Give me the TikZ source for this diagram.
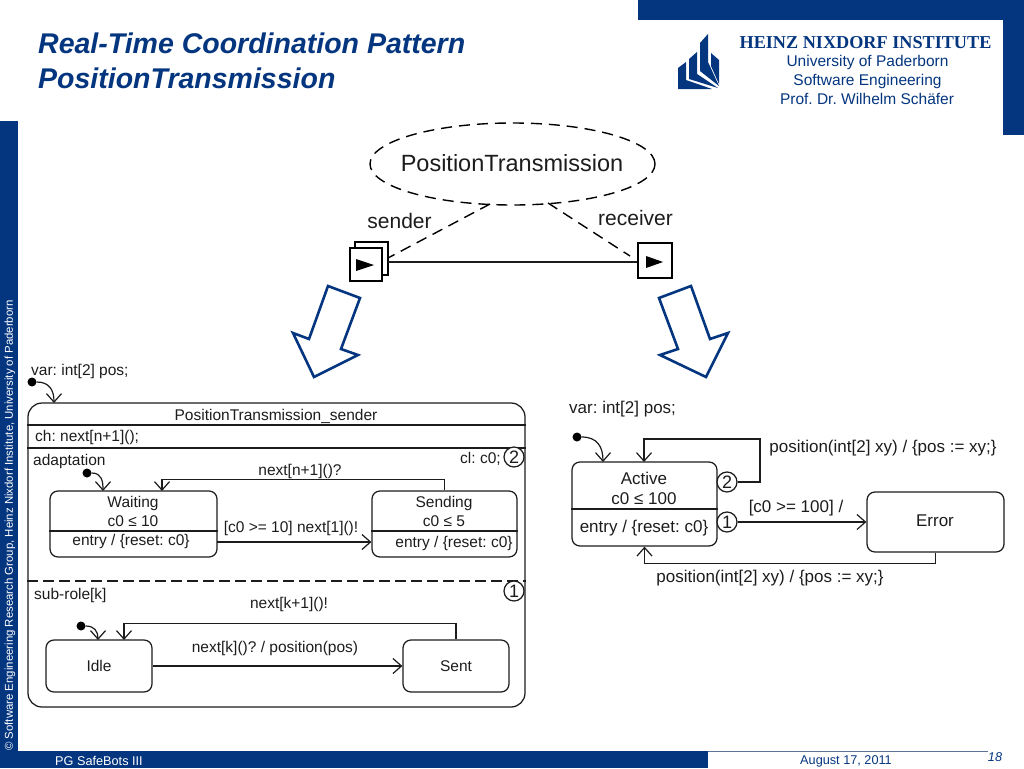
\documentclass[tikz,border=0pt]{standalone}
\usepackage{fontspec}
\setmainfont{Liberation Sans}
\newfontfamily\serifhead{Liberation Serif}
\usetikzlibrary{arrows.meta,shapes.geometric}
\definecolor{upbblue}{HTML}{04357F}
\definecolor{inkgray}{HTML}{1C1C1C}
\definecolor{rulegray}{HTML}{5F7197}
\def\fsz#1{\fontsize{#1}{#1}\selectfont\frenchspacing}
\tikzset{
    statebox/.style={draw=inkgray, line width=1.25pt, rounded corners=8pt, inner sep=0pt},
    lbl/.style={text=inkgray, inner sep=0pt, text height=11pt, text depth=3pt, yshift=-1.5pt, font=\fsz{15.5}},
    lblleft/.style={lbl, anchor=west},
    lblbig/.style={lbl, font=\fsz{17}},
    stline/.style={draw=inkgray, line width=1.2pt},
    trans/.style={stline, -{Straight Barb[length=8.5pt,width=15pt,line width=1.2pt]}},
    initdot/.style={circle, fill=black, inner sep=0pt, minimum size=9pt},
    prionum/.style={circle, draw=inkgray, line width=1.25pt, fill=white, inner sep=0pt, minimum size=20pt, text=inkgray, font=\fsz{18}},
    portbox/.style={draw=black, line width=1.4pt, fill=white, inner sep=0pt},
    downarrow/.style={draw=upbblue, line width=2.6pt, miter limit=10},
    headtxt/.style={text=upbblue, inner sep=0pt, text height=11pt, text depth=3pt, yshift=-1.5pt, font=\fsz{15.5}},
    pagetitle/.style={text=upbblue, inner sep=0pt, anchor=west, font=\fsz{28.5}\bfseries\itshape},
    dashln/.style={draw=black, line width=1.4pt, dash pattern=on 11pt off 7pt}
}
\begin{document}
\begin{tikzpicture}[x=1pt, y=-1pt]
    \useasboundingbox (0,0) rectangle (1024,768);

    % page frame
    \fill[upbblue] (638,0) rectangle (1024,20);
    \fill[upbblue] (1003,0) rectangle (1024,135);
    \fill[upbblue] (0,121) rectangle (18,751);
    \fill[upbblue] (0,751) rectangle (708,768);
    \draw[rulegray, line width=1pt] (708,751) -- (988,751);

    \node[pagetitle] (title1) at (38,43) {Real-Time Coordination Pattern};
    \node[pagetitle] (title2) at (38,78) {PositionTransmission};

    % logo
    \fill[upbblue] (678,68) -- (686,62) -- (686,80) -- (712,89) -- (678,89) -- cycle;
    \fill[upbblue] (689,59) -- (697,52) -- (697,74) -- (718,88) -- (689,79) -- cycle;
    \fill[upbblue] (700,43) -- (708,34) -- (708,62) -- (719,86) -- (700,71) -- cycle;
    \fill[upbblue] (711,53) -- (719,60) -- (719,84) -- (711,66) -- cycle;

    \node[headtxt, font=\serifhead\fsz{18.2}\bfseries] (hni) at (865.5,43) {HEINZ NIXDORF INSTITUTE};
    \node[headtxt] (upb) at (867.5,61) {University of Paderborn};
    \node[headtxt] (swe) at (867.5,80) {Software Engineering};
    \node[headtxt] (prof) at (867,99) {Prof. Dr. Wilhelm Schäfer};

    \node[white, inner sep=0pt, rotate=90, anchor=west, font=\fsz{11.4}] (copyr) at (10,751) {© Software Engineering Research Group, Heinz Nixdorf Institute, University of Paderborn};
    \node[white, inner sep=0pt, anchor=west, font=\fsz{12.7}] (foot) at (55,761) {PG SafeBots III};
    \node[upbblue, inner sep=0pt, font=\fsz{12.7}] (datelbl) at (846,761) {August 17, 2011};
    \node[upbblue, inner sep=0pt, font=\fsz{12.7}\itshape] (pagenum) at (995,757) {18};

    % pattern
    \node[ellipse, dashln, minimum width=285pt, minimum height=82pt, inner sep=0pt] (pattern) at (512.5,164) {};
    \node[lbl, font=\fsz{23.5}] (patternlbl) at (512,166) {PositionTransmission};
    \draw[portbox] (355,242) rectangle (388,275);
    \node[portbox, minimum width=32pt, minimum height=33pt] (senderport) at (366,264.5) {};
    \node[portbox, minimum width=34pt, minimum height=35pt] (receiverport) at (655,260.5) {};
    \fill[black] (356,259) -- (374,265) -- (356,271) -- cycle;
    \fill[black] (646,256) -- (663,262) -- (646,268) -- cycle;
    \coordinate (senderedge) at (388,262);
    \draw[stline] (senderedge) -- (receiverport.west |- senderedge);
    \coordinate (senderdash) at (490,204);
    \coordinate (receiverdash) at (548,203);
    \coordinate (senderdashend) at (388,258);
    \coordinate (receiverdashend) at (630,256);
    \draw[dashln] (senderdash) -- (senderdashend);
    \draw[dashln] (receiverdash) -- (receiverdashend);
    \node[lbl, font=\fsz{21}] (senderlbl) at (399.5,222.5) {sender};
    \node[lbl, font=\fsz{21}] (receiverlbl) at (635.5,219.5) {receiver};

    \draw[downarrow] (328,286) -- (360,298) -- (341,349) -- (358,355) -- (314,377) -- (293,333) -- (309,339) -- cycle;
    \draw[downarrow] (659,298) -- (691,286) -- (710,339) -- (728,333) -- (706,377) -- (660,355) -- (678,349) -- cycle;

    % sender statechart
    \node[lblleft] (sendervar) at (31,370) {var: int[2] pos;};
    \node[statebox, rounded corners=14pt, minimum width=497pt, minimum height=304pt] (senderst) at (276.5,555) {};
    \node[lbl] (sendername) at (276,415) {PositionTransmission\_sender};
    \draw[stline] (senderst.west |- 0,425) -- (senderst.east |- 0,425);
    \node[lblleft] (chlbl) at (35,436) {ch: next[n+1]();};
    \draw[stline, line width=1.6pt] (senderst.west |- 0,448) -- (senderst.east |- 0,448);
    \draw[stline, dash pattern=on 11pt off 5pt] (senderst.west |- 0,581) -- (senderst.east |- 0,581);

    \node[initdot] (senderinit) at (32,382) {};
    \draw[trans] (senderinit) to[out=0, in=90, looseness=1.2] (54,403);

    \node[lblleft] (adaptlbl) at (33,460) {adaptation};
    \node[lblleft] (cllbl) at (460,458) {cl: c0;};
    \node[prionum] (prio2) at (514,457) {2};
    \node[prionum] (prio1) at (514,591) {1};

    \node[statebox, minimum width=167pt, minimum height=66pt] (waiting) at (133.5,524) {};
    \node[statebox, minimum width=145pt, minimum height=66pt] (sending) at (444.5,524) {};
    \draw[stline] (waiting.west |- 0,531) -- (waiting.east |- 0,531);
    \draw[stline] (sending.west |- 0,531) -- (sending.east |- 0,531);
    \node[lbl] (waitinglbl) at (133,502) {Waiting};
    \node[lbl] (waitinginv) at (133,521) {c0 ≤ 10};
    \node[lbl] (waitingent) at (131,540) {entry / \{reset: c0\}};
    \node[lbl] (sendinglbl) at (444,502) {Sending};
    \node[lbl] (sendinginv) at (444,521) {c0 ≤ 5};
    \node[lbl] (sendingent) at (454,542) {entry / \{reset: c0\}};
    \node[initdot] (waitinginit) at (87,473) {};
    \draw[trans] (waitinginit) to[out=0, in=90, looseness=1.2] (103,491);
    \coordinate (waitingout) at (217,542);
    \draw[trans] (waitingout) -- (sending.west |- waitingout);
    \node[lbl] (wslbl) at (291,527) {[c0 >= 10] next[1]()!};
    \draw[trans] (sending.north) -- ++(0,-11) -| (162,491);
    \node[lbl] (swlbl) at (300,470) {next[n+1]()?};

    \node[lblleft] (subrolelbl) at (34,594) {sub-role[k]};
    \node[statebox, minimum width=106pt, minimum height=52pt] (idle) at (99,666) {};
    \node[statebox, minimum width=106pt, minimum height=52pt] (sent) at (456,666) {};
    \node[lbl] (idlelbl) at (idle.center) {Idle};
    \node[lbl] (sentlbl) at (sent.center) {Sent};
    \node[initdot] (idleinit) at (81,626) {};
    \draw[trans] (idleinit) to[out=0, in=90, looseness=1.2] (98,640);
    \draw[trans] (idle) -- (sent);
    \node[lbl] (islbl) at (275,647) {next[k]()? / position(pos)};
    \draw[trans] (sent.north) -- ++(0,-16) -| (124,640);
    \node[lbl] (silbl) at (289,603) {next[k+1]()!};

    % receiver statechart
    \node[lblleft, lblbig, anchor=west] (receivervar) at (569,406) {var: int[2] pos;};
    \node[statebox, minimum width=145pt, minimum height=84pt] (active) at (644.5,504) {};
    \draw[stline] (active.west |- 0,509) -- (active.east |- 0,509);
    \node[lblbig] (activelbl) at (644,479) {Active};
    \node[lblbig] (activeinv) at (644,499) {c0 ≤ 100};
    \node[lblbig] (activeent) at (644,527) {entry / \{reset: c0\}};
    \node[statebox, minimum width=137pt, minimum height=60pt] (errorst) at (935.5,522) {};
    \node[lblbig] (errorlbl) at (935,521) {Error};
    \node[initdot] (activeinit) at (577,437) {};
    \draw[trans] (activeinit) to[out=0, in=90, looseness=1.2] (603,462);
    \node[prionum] (actprio2) at (727,482) {2};
    \node[prionum] (actprio1) at (727,522) {1};
    \draw[trans] (actprio2.east) -- (760,482) -- (760,439) -- (644,439) -- (644,462);
    \node[lblbig] (selflbl) at (883,447) {position(int[2] xy) / \{pos := xy;\}};
    \draw[trans] (actprio1.east) -- (errorst.west |- actprio1);
    \node[lblbig] (aelbl) at (796,507) {[c0 >= 100] /};
    \draw[trans] (errorst.south) -- ++(0,11) -| (active.south);
    \node[lblbig] (ealbl) at (770,577) {position(int[2] xy) / \{pos := xy;\}};
\end{tikzpicture}
\end{document}
